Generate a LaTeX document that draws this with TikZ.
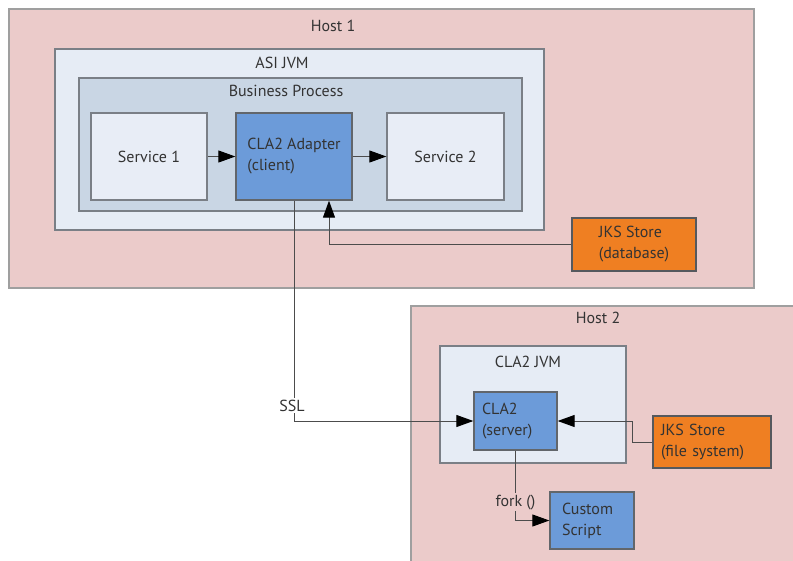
\documentclass[tikz,border=0pt]{standalone}
\usepackage{fontspec}
\setmainfont{PT Sans}
\usetikzlibrary{arrows.meta}
\definecolor{hostpink}{HTML}{EBCBCA}
\definecolor{jvmfill}{HTML}{E6ECF5}
\definecolor{bpfill}{HTML}{C9D6E4}
\definecolor{svcfill}{HTML}{E8EDF6}
\definecolor{clafill}{HTML}{6C9BD9}
\definecolor{jksfill}{HTML}{EF7F22}
\definecolor{txt}{HTML}{333333}
\definecolor{edge}{HTML}{7A7F86}
\tikzset{
  every node/.style={font=\fontsize{16}{21}\selectfont, text=txt},
  hostbox/.style={draw=gray!75, fill=hostpink, line width=1.3pt, inner sep=0pt},
  jvmbox/.style={draw=edge, fill=jvmfill, line width=1.3pt, inner sep=0pt},
  bpbox/.style={draw=edge, fill=bpfill, line width=1.3pt, inner sep=0pt},
  svcbox/.style={draw=edge, fill=svcfill, line width=1.3pt, inner sep=0pt},
  clabox/.style={draw=edge!80!black, fill=clafill, line width=1.3pt, align=left, inner sep=0pt},
  jksbox/.style={draw=edge!70!black, fill=jksfill, line width=1.3pt, align=left, inner sep=0pt},
  title/.style={inner sep=0pt, anchor=center},
  conn/.style={draw=black!70, line width=1pt},
  arr/.style={conn, -{Triangle[length=17pt,width=12pt,color=black]}},
}
\begin{document}
\begin{tikzpicture}[x=1pt,y=-1pt]
\clip (0,0) rectangle (793,560);
\fill[white] (0,0) rectangle (793,560);
% Host 1
\node[hostbox, minimum width=745, minimum height=279] (host1) at (381.5,148.5) {};
\node[title] (host1t) at (333,26) {Host 1};
\node[jvmbox, minimum width=489, minimum height=181] (asijvm) at (299.5,139.5) {};
\node[title] (asijvmt) at (282,63) {ASI JVM};
\node[bpbox, minimum width=443, minimum height=133] (bp) at (300.5,144.5) {};
\node[title] (bpt) at (286,91) {Business Process};
\node[svcbox, minimum width=116, minimum height=87] (svc1) at (149,156.5) {Service 1};
\node[clabox, minimum width=116, minimum height=87] (adapter) at (294,156.5) {CLA2 Adapter\\(client)};
\node[svcbox, minimum width=117, minimum height=87] (svc2) at (445.5,156.5) {Service 2};
\node[jksbox, minimum width=124, minimum height=53] (jksdb) at (634,244.5) {JKS Store\\(database)};
% Host 2
\node[hostbox, minimum width=389, minimum height=264] (host2) at (605.5,438) {};
\node[title] (host2t) at (598,318) {Host 2};
\node[jvmbox, minimum width=186, minimum height=117] (clajvm) at (533,404.5) {};
\node[title] (clajvmt) at (528,362) {CLA2 JVM};
\node[clabox, minimum width=83, minimum height=58, text width=67, inner xsep=8] (server) at (515.5,421) {CLA2\\(server)};
\node[jksbox, minimum width=118, minimum height=52, text width=102, inner xsep=8] (jksfs) at (712,442) {JKS Store\\(file system)};
\node[clabox, minimum width=84, minimum height=57, text width=60, inner xsep=12] (custom) at (592,520.5) {Custom\\Script};
% connectors
\draw[arr] (svc1.east) -- (adapter.west);
\draw[arr] (adapter.east) -- (svc2.west);
\draw[arr] (jksdb.west) -| ([xshift=35pt]adapter.south);
\draw[arr] (adapter.south) |- (server.west)
  node[pos=0.465, fill=white, inner sep=1.5pt, xshift=-2pt] (ssl) {SSL};
\draw[arr] (jksfs.west) -- ++(-20,0) |- (server.east);
\draw[arr] (server.south) |- (custom.west)
  node[pos=0.37, fill=hostpink, inner sep=1.5pt, xshift=0pt] (fork) {fork ()};
\end{tikzpicture}
\end{document}
